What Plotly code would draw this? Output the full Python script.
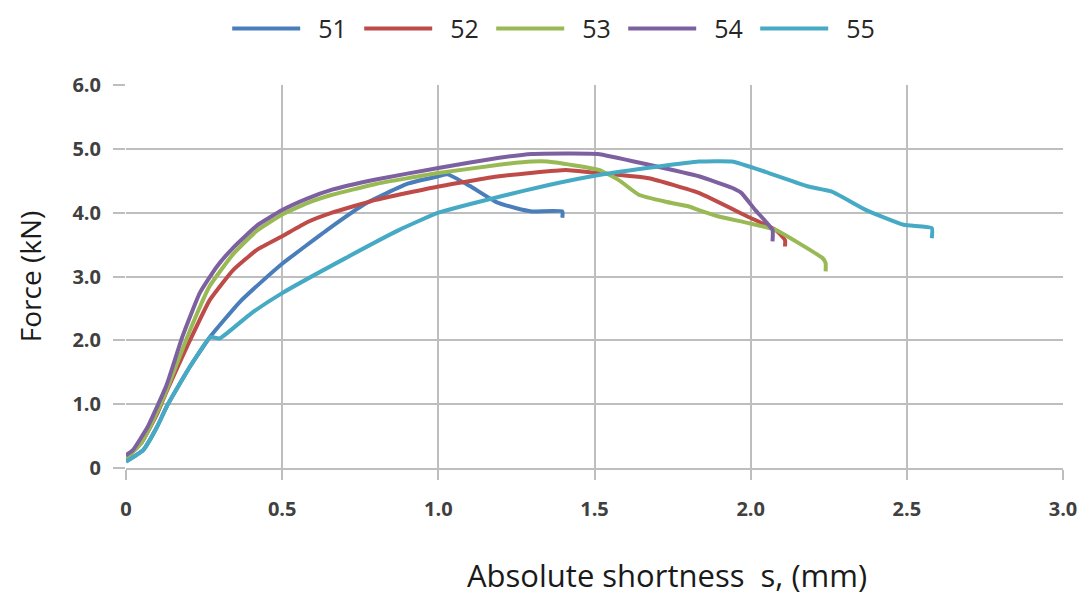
import plotly.graph_objects as go

# Series data (x = absolute shortness in mm, y = force in kN)
x51 = [0.0, 0.055, 0.1, 0.13, 0.2, 0.27, 0.364, 0.43, 0.5, 0.65, 0.77, 0.9, 1.0, 1.03, 1.1, 1.184, 1.25, 1.30, 1.397, 1.397]
y51 = [0.1, 0.28, 0.65, 0.96, 1.55, 2.06, 2.6, 2.9, 3.2, 3.75, 4.15, 4.45, 4.57, 4.6, 4.42, 4.17, 4.07, 4.02, 4.02, 3.92]

x52 = [0.0, 0.05, 0.1, 0.13, 0.2, 0.268, 0.343, 0.42, 0.5, 0.58, 0.66, 0.8, 1.0, 1.195, 1.408, 1.514, 1.674, 1.834, 1.99, 2.08, 2.11, 2.11]
y52 = [0.15, 0.4, 0.85, 1.2, 1.95, 2.63, 3.1, 3.42, 3.63, 3.85, 4.0, 4.2, 4.41, 4.57, 4.67, 4.62, 4.54, 4.31, 3.94, 3.73, 3.57, 3.47]

x53 = [0.0, 0.05, 0.1, 0.13, 0.2, 0.268, 0.343, 0.42, 0.5, 0.58, 0.66, 0.8, 1.0, 1.195, 1.3, 1.35, 1.514, 1.578, 1.642, 1.728, 1.80, 1.834, 1.898, 1.99, 2.08, 2.155, 2.23, 2.24, 2.24]
y53 = [0.15, 0.4, 0.88, 1.22, 2.1, 2.85, 3.35, 3.72, 3.97, 4.15, 4.28, 4.45, 4.62, 4.75, 4.80, 4.80, 4.67, 4.51, 4.28, 4.17, 4.10, 4.04, 3.94, 3.84, 3.73, 3.52, 3.29, 3.21, 3.08]

x54 = [0.0, 0.022, 0.07, 0.13, 0.18, 0.236, 0.29, 0.343, 0.42, 0.5, 0.58, 0.66, 0.8, 1.0, 1.195, 1.30, 1.51, 1.674, 1.834, 1.94, 1.97, 2.015, 2.07, 2.07]
y54 = [0.2, 0.28, 0.65, 1.3, 2.05, 2.74, 3.15, 3.45, 3.8, 4.04, 4.22, 4.36, 4.52, 4.70, 4.86, 4.92, 4.92, 4.75, 4.57, 4.39, 4.31, 4.04, 3.73, 3.55]

x55 = [0.0, 0.055, 0.1, 0.13, 0.2, 0.27, 0.30, 0.4, 0.5, 0.7, 0.875, 1.0, 1.195, 1.35, 1.514, 1.7, 1.834, 1.94, 2.047, 2.185, 2.26, 2.37, 2.49, 2.58, 2.58]
y55 = [0.1, 0.28, 0.65, 0.96, 1.55, 2.05, 2.03, 2.42, 2.74, 3.28, 3.73, 4.0, 4.25, 4.43, 4.59, 4.72, 4.80, 4.80, 4.64, 4.41, 4.33, 4.04, 3.81, 3.76, 3.6]

series = [
    ("51", x51, y51, "#4A7EBB"),
    ("52", x52, y52, "#BE4B48"),
    ("53", x53, y53, "#98B954"),
    ("54", x54, y54, "#7D60A0"),
    ("55", x55, y55, "#46AAC5"),
]

x_ticks = [0, 0.5, 1.0, 1.5, 2.0, 2.5, 3.0]
x_tick_labels = ["0", "0.5", "1.0", "1.5", "2.0", "2.5", "3.0"]
y_ticks = [0, 1, 2, 3, 4, 5, 6]
y_tick_labels = ["0", "1.0", "2.0", "3.0", "4.0", "5.0", "6.0"]
x_title = "Absolute shortness  s, (mm)"
y_title = "Force (kN)"

fig = go.Figure()
for name, xs, ys, color in series:
    fig.add_trace(go.Scatter(x=xs, y=ys, mode="lines", name="\u00a0\u00a0" + name,
                             line=dict(color=color, width=4, shape="spline", smoothing=0.4)))

grid = "#BEBEBE"
base = "Open Sans, DejaVu Sans, sans-serif"
tick_font = dict(size=20, color="#404040", family=base, weight="bold")
fig.update_layout(
    width=1091, height=594,
    margin=dict(l=118, r=36, t=77, b=134, autoexpand=False),
    plot_bgcolor="white", paper_bgcolor="white",
    font=dict(family=base, color="#262626"),
    legend=dict(orientation="h", x=0.108, xanchor="left", y=0.965, yanchor="middle",
                yref="container", font=dict(size=25, color="#262626"),
                itemwidth=68, entrywidth=49, tracegroupgap=0),
    xaxis=dict(range=[0, 3.0], tickvals=x_ticks, ticktext=x_tick_labels,
               showgrid=True, gridcolor=grid, gridwidth=2,
               ticks="outside", ticklen=10, tickcolor=grid, tickwidth=2,
               showline=True, linecolor=grid, linewidth=2, zeroline=False,
               tickfont=tick_font, ticklabelstandoff=12, automargin=False),
    yaxis=dict(range=[0, 6.0], tickvals=y_ticks, ticktext=y_tick_labels,
               showgrid=True, gridcolor=grid, gridwidth=2,
               ticks="outside", ticklen=12, tickcolor=grid, tickwidth=2,
               showline=False, zeroline=False,
               tickfont=tick_font, ticklabelstandoff=8, automargin=False,
               title=dict(text=y_title, font=dict(size=28, color="#1a1a1a"), standoff=22)),
    annotations=[dict(text=x_title, xref="paper", yref="paper", x=0.577, y=-0.28,
                      xanchor="center", yanchor="middle", showarrow=False,
                      font=dict(size=31, color="#1a1a1a"))],
)

fig.write_html("out.html")
